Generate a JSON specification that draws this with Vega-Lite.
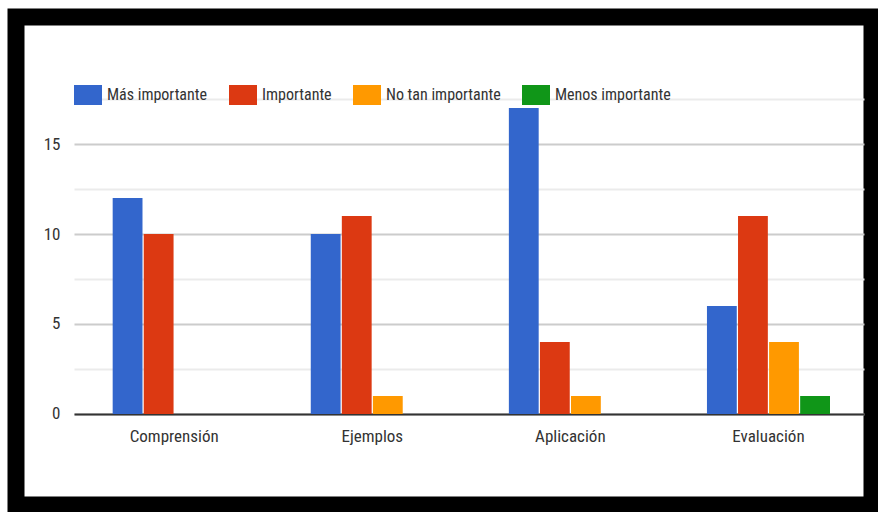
{
  "$schema": "https://vega.github.io/schema/vega-lite/v6.json",
  "width": 856,
  "height": 488,
  "autosize": {"type": "none"},
  "padding": {"left": 16, "top": 17, "right": 6, "bottom": 7},
  "background": "white",
  "data": {
    "values": [
      {"categoria": "Comprensión", "serie": "Más importante", "valor": 12},
      {"categoria": "Comprensión", "serie": "Importante", "valor": 10},
      {"categoria": "Comprensión", "serie": "No tan importante", "valor": 0},
      {"categoria": "Comprensión", "serie": "Menos importante", "valor": 0},
      {"categoria": "Ejemplos", "serie": "Más importante", "valor": 10},
      {"categoria": "Ejemplos", "serie": "Importante", "valor": 11},
      {"categoria": "Ejemplos", "serie": "No tan importante", "valor": 1},
      {"categoria": "Ejemplos", "serie": "Menos importante", "valor": 0},
      {"categoria": "Aplicación", "serie": "Más importante", "valor": 17},
      {"categoria": "Aplicación", "serie": "Importante", "valor": 4},
      {"categoria": "Aplicación", "serie": "No tan importante", "valor": 1},
      {"categoria": "Aplicación", "serie": "Menos importante", "valor": 0},
      {"categoria": "Evaluación", "serie": "Más importante", "valor": 6},
      {"categoria": "Evaluación", "serie": "Importante", "valor": 11},
      {"categoria": "Evaluación", "serie": "No tan importante", "valor": 4},
      {"categoria": "Evaluación", "serie": "Menos importante", "valor": 1}
    ]
  },
  "mark": {"type": "bar"},
  "encoding": {
    "x": {
      "field": "categoria",
      "type": "nominal",
      "sort": ["Comprensión", "Ejemplos", "Aplicación", "Evaluación"],
      "scale": {"range": [58, 848], "paddingInner": 0.379, "paddingOuter": 0.1835, "align": 0.532},
      "axis": {
        "title": null,
        "orient": "bottom",
        "offset": -91,
        "domain": true,
        "domainColor": "#333333",
        "domainWidth": 2,
        "ticks": false,
        "labelAngle": 0,
        "labelPadding": 14,
        "labelFont": "Liberation Sans Narrow, Roboto Condensed, Roboto, sans-serif",
        "labelFontSize": 17,
        "labelColor": "#333333",
        "grid": false
      }
    },
    "xOffset": {
      "field": "serie",
      "type": "nominal",
      "sort": ["Más importante", "Importante", "No tan importante", "Menos importante"],
      "scale": {"paddingInner": 0.04, "paddingOuter": 0}
    },
    "y": {
      "field": "valor",
      "type": "quantitative",
      "scale": {"domain": [-5.056, 22.056], "nice": false, "zero": false},
      "axis": {
        "title": null,
        "orient": "left",
        "offset": -46,
        "domain": false,
        "ticks": false,
        "labelPadding": 2,
        "values": [0, 2.5, 5, 7.5, 10, 12.5, 15, 17.5],
        "labelExpr": "datum.value % 5 === 0 ? datum.label : ''",
        "labelFont": "Liberation Sans Narrow, Roboto Condensed, Roboto, sans-serif",
        "labelFontSize": 17,
        "labelColor": "#333333",
        "grid": true,
        "gridColor": {"condition": {"test": "datum.value % 5 === 0", "value": "#cccccc"}, "value": "#ebebeb"},
        "gridWidth": 2
      }
    },
    "color": {
      "field": "serie",
      "type": "nominal",
      "sort": ["Más importante", "Importante", "No tan importante", "Menos importante"],
      "scale": {
        "domain": ["Más importante", "Importante", "No tan importante", "Menos importante"],
        "range": ["#3366cc", "#dc3912", "#ff9900", "#109618"]
      },
      "legend": {
        "title": null,
        "orient": "none",
        "direction": "horizontal",
        "legendX": 58,
        "legendY": 64,
        "padding": 0,
        "symbolType": "M-1,-0.714H1V0.714H-1Z",
        "symbolSize": 784,
        "symbolStrokeWidth": 0,
        "symbolOpacity": 1,
        "labelOffset": 5,
        "columnPadding": 21,
        "labelFont": "Liberation Sans Narrow, Roboto Condensed, Roboto, sans-serif",
        "labelFontSize": 16,
        "labelColor": "#333333",
        "labelLimit": 300
      }
    }
  },
  "config": {
    "view": {"fill": "white", "stroke": "black", "strokeWidth": 17},
    "font": "Liberation Sans Narrow, Roboto Condensed, Roboto, sans-serif"
  }
}
